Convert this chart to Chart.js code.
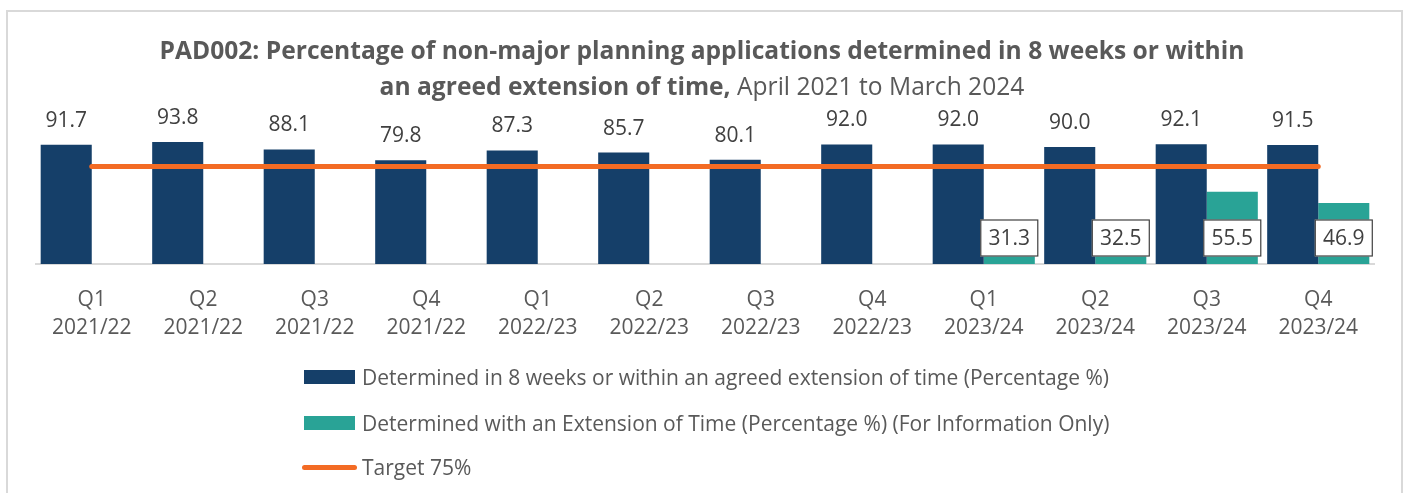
<!DOCTYPE html>
<html>
<head>
<meta charset="utf-8">
<script src="https://cdn.jsdelivr.net/npm/chart.js@4.4.1/dist/chart.umd.min.js"></script>
<style>
  html, body { margin: 0; padding: 0; background: #ffffff; }
  #wrap { position: relative; width: 1408px; height: 493px; overflow: hidden; font-family: "Open Sans", sans-serif; }
  #frame { position: absolute; left: 6px; top: 10px; width: 1397px; height: 600px; border: 2px solid #d9d9d9; box-sizing: border-box; }
  #chart { position: absolute; left: 0; top: 0; }
  #title { position: absolute; left: 2px; width: 1400px; top: 32px; text-align: center; color: #595959; font-size: 24.6px; line-height: 36px; white-space: nowrap; }
  #title b { font-weight: 700; }
  .leg { position: absolute; left: 302px; height: 30px; display: flex; align-items: center; color: #595959; font-size: 21px; white-space: nowrap; }
  .sw { width: 51px; height: 14px; margin-left: 2px; margin-right: 7px; }
  .ln { width: 55px; height: 5px; border-radius: 3px; margin-right: 5px; }
</style>
</head>
<body>
<div id="wrap">
  <div id="frame"></div>
  <canvas id="chart" width="1408" height="493"></canvas>
  <div id="title"><b>PAD002: Percentage of non-major planning applications determined in 8 weeks or within<br>an agreed extension of time,</b> April 2021 to March 2024</div>
  <div class="leg" style="top:362px"><div class="sw" style="background:#153f69"></div>Determined in 8 weeks or within an agreed extension of time (Percentage %)</div>
  <div class="leg" style="top:408px"><div class="sw" style="background:#29a396"></div>Determined with an Extension of Time (Percentage %) (For Information Only)</div>
  <div class="leg" style="top:452px"><div class="ln" style="background:#f36b24"></div>Target 75%</div>
</div>
<script>
const categories = [
  ['Q1', '2021/22'], ['Q2', '2021/22'], ['Q3', '2021/22'], ['Q4', '2021/22'],
  ['Q1', '2022/23'], ['Q2', '2022/23'], ['Q3', '2022/23'], ['Q4', '2022/23'],
  ['Q1', '2023/24'], ['Q2', '2023/24'], ['Q3', '2023/24'], ['Q4', '2023/24']
];
const determinedPct = [91.7, 93.8, 88.1, 79.8, 87.3, 85.7, 80.1, 92.0, 92.0, 90.0, 92.1, 91.5];
const extensionPct = [null, null, null, null, null, null, null, null, 31.3, 32.5, 55.5, 46.9];
const targetPct = [75, 75, 75, 75, 75, 75, 75, 75, 75, 75, 75, 75];

const NAVY = '#153f69';
const TEAL = '#29a396';
const ORANGE = '#f36b24';
const FONT = '"Open Sans", sans-serif';

const labelPlugin = {
  id: 'valueLabels',
  afterDatasetsDraw(chart) {
    const ctx = chart.ctx;
    ctx.save();
    ctx.font = '21px ' + FONT;
    ctx.textAlign = 'center';
    ctx.textBaseline = 'middle';
    const m0 = chart.getDatasetMeta(0);
    m0.data.forEach((el, i) => {
      const v = determinedPct[i];
      if (v == null) return;
      ctx.fillStyle = '#404040';
      ctx.fillText(v.toFixed(1), el.x, el.y - 24);
    });
    const m1 = chart.getDatasetMeta(1);
    m1.data.forEach((el, i) => {
      const v = extensionPct[i];
      if (v == null) return;
      const w = 58, h = 37;
      const bx = el.x - w / 2;
      const by = el.base - 7.5 - h;
      ctx.fillStyle = '#ffffff';
      ctx.fillRect(bx, by, w, h);
      ctx.strokeStyle = '#404040';
      ctx.lineWidth = 1.2;
      ctx.strokeRect(bx + 0.5, by + 0.5, w - 1, h - 1);
      ctx.fillStyle = '#404040';
      ctx.fillText(v.toFixed(1), el.x, by + h / 2 + 1);
    });
    ctx.restore();
  }
};

new Chart(document.getElementById('chart'), {
  data: {
    labels: categories,
    datasets: [
      {
        type: 'bar',
        label: 'Determined in 8 weeks or within an agreed extension of time (Percentage %)',
        data: determinedPct,
        backgroundColor: NAVY,
        barPercentage: 1.0,
        categoryPercentage: 0.916,
        order: 2
      },
      {
        type: 'bar',
        label: 'Determined with an Extension of Time (Percentage %) (For Information Only)',
        data: extensionPct,
        backgroundColor: TEAL,
        barPercentage: 1.0,
        categoryPercentage: 0.916,
        order: 2
      },
      {
        type: 'line',
        label: 'Target 75%',
        data: targetPct,
        borderColor: ORANGE,
        borderWidth: 5,
        borderCapStyle: 'round',
        pointRadius: 0,
        fill: false,
        tension: 0,
        order: 0
      }
    ]
  },
  options: {
    responsive: false,
    animation: false,
    layout: { padding: { top: 134, left: 36, right: 34, bottom: 0 } },
    plugins: {
      legend: { display: false },
      title: { display: false },
      tooltip: { enabled: false }
    },
    scales: {
      x: {
        grid: { display: false, drawTicks: false },
        border: { display: true, color: '#d9d9d9', width: 2 },
        ticks: { color: '#595959', font: { family: FONT, size: 21, lineHeight: 1.34 }, padding: 21.5, maxRotation: 0, autoSkip: false },
        afterFit(scale) { scale.height = 229; }
      },
      y: {
        display: false,
        min: 0,
        max: 100
      }
    }
  },
  plugins: [labelPlugin]
});
</script>
</body>
</html>
